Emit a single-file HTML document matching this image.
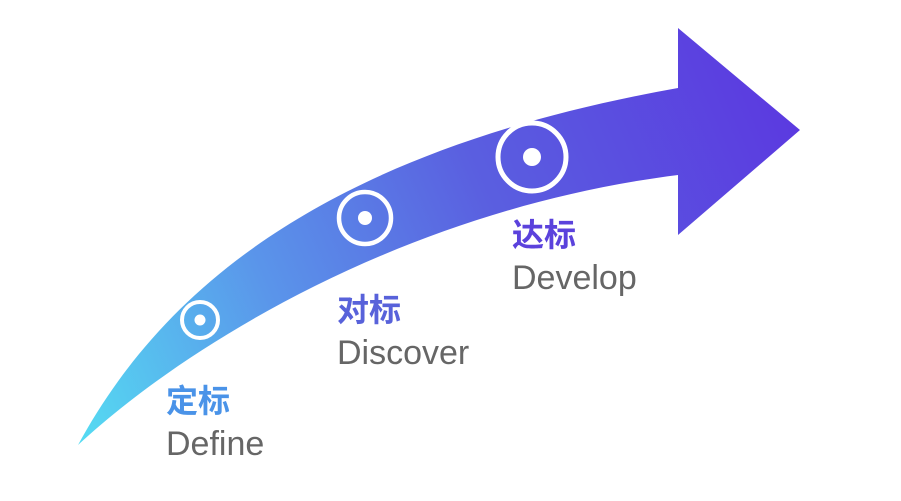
<!DOCTYPE html>
<html><head><meta charset="utf-8"><style>
html,body{margin:0;padding:0;background:#fff;width:901px;height:501px;overflow:hidden}
</style></head><body>
<svg width="901" height="501" viewBox="0 0 901 501" xmlns="http://www.w3.org/2000/svg">
<defs>
<linearGradient id="g" x1="78" y1="445" x2="800" y2="130" gradientUnits="userSpaceOnUse">
<stop offset="0" stop-color="#55dcf2"/>
<stop offset="0.3" stop-color="#5a95ea"/>
<stop offset="0.6" stop-color="#5a5fe0"/>
<stop offset="1" stop-color="#5b3ae0"/>
</linearGradient>
</defs>
<path d="M78,445 C165,285 330,150 678,88 L678,28 L800,130 L678,235 L678,175 C400,210 180,350 78,445 Z" fill="url(#g)"/>
<g fill="none" stroke="#fff">
<circle cx="200" cy="320" r="18" stroke-width="4"/>
<circle cx="365" cy="218" r="26" stroke-width="4.5"/>
<circle cx="532" cy="157" r="34" stroke-width="5"/>
</g>
<g fill="#fff">
<circle cx="200" cy="320" r="5.5"/>
<circle cx="365" cy="218" r="7"/>
<circle cx="532" cy="157" r="9"/>
</g>
<g font-family="'Liberation Sans','Noto Sans CJK SC',sans-serif">
<text x="166" y="412" font-size="32" font-weight="bold" fill="#4a93e8">定标</text>
<text x="166" y="455" font-size="34" fill="#666">Define</text>
<text x="337" y="321" font-size="32" font-weight="bold" fill="#5862da">对标</text>
<text x="337" y="364" font-size="34" fill="#666">Discover</text>
<text x="512" y="246" font-size="32" font-weight="bold" fill="#5b42dc">达标</text>
<text x="512" y="289" font-size="34" fill="#666">Develop</text>
</g>
</svg>
</body></html>
